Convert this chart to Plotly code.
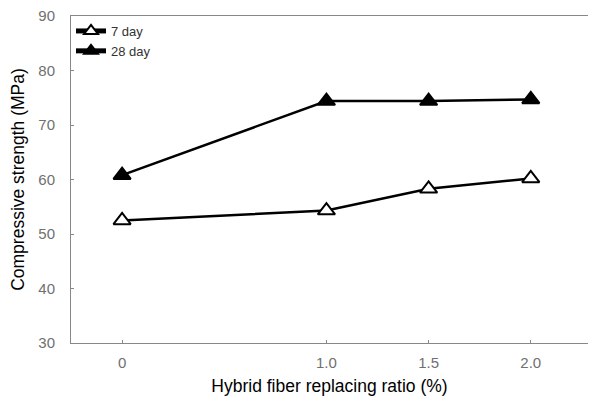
import plotly.graph_objects as go

ratio = [0, 1.0, 1.5, 2.0]
tick_text = ["0", "1.0", "1.5", "2.0"]
day7 = [52.5, 54.3, 58.3, 60.2]
day28 = [60.8, 74.4, 74.4, 74.7]
y_ticks = [30, 40, 50, 60, 70, 80, 90]

fig = go.Figure()
fig.add_trace(go.Scatter(
    x=ratio, y=day7, mode="lines+markers", name="7 day",
    line=dict(color="black", width=2.5),
    marker=dict(symbol="triangle-up", size=15, color="white",
                line=dict(color="black", width=2)),
))
fig.add_trace(go.Scatter(
    x=ratio, y=day28, mode="lines+markers", name="28 day",
    line=dict(color="black", width=2.5),
    marker=dict(symbol="triangle-up", size=15, color="black",
                line=dict(color="black", width=2)),
))

axis_common = dict(
    showline=True, linecolor="#888888", linewidth=1, mirror=True,
    showgrid=False, zeroline=False, ticks="inside", ticklen=3,
    tickcolor="#888888", tickfont=dict(size=15, color="#707070"),
    automargin=False, ticklabeloverflow="allow",
)

# page body has an 8px default margin, so the figure is sized to the visible area
fig.update_layout(
    width=588, height=392,
    margin=dict(l=63, r=8, t=8, b=57),
    paper_bgcolor="white", plot_bgcolor="white",
    font=dict(family="Liberation Sans, Arial, sans-serif", color="black"),
    xaxis=dict(range=[-0.25, 2.28], tickvals=ratio, ticktext=tick_text,
               ticklabelstandoff=6,
               title=dict(text="Hybrid fiber replacing ratio (%)", font=dict(size=17.5), standoff=9),
               **axis_common),
    yaxis=dict(range=[30, 90], tickvals=y_ticks, ticklabelstandoff=12,
               title=dict(text="Compressive strength (MPa)", font=dict(size=17.5), standoff=13),
               **axis_common),
    legend=dict(x=0.0, y=1.0, xanchor="left", yanchor="top",
                bgcolor="rgba(0,0,0,0)", font=dict(size=13, color="#333333"),
                itemsizing="constant", itemwidth=30, tracegroupgap=0),
    showlegend=True,
)

fig.write_html("out.html")
